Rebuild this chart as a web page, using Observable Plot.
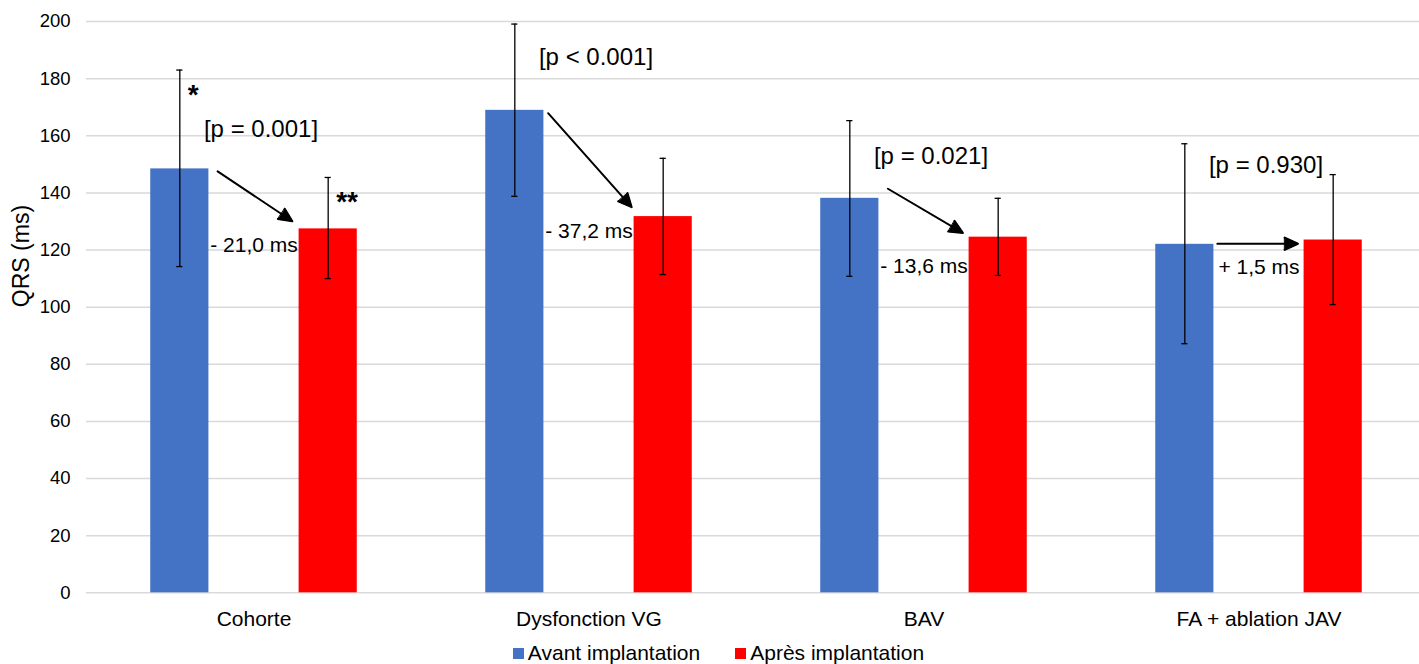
<!DOCTYPE html>
<html><head><meta charset="utf-8">
<script src="https://cdn.jsdelivr.net/npm/d3@7"></script>
<script src="https://cdn.jsdelivr.net/npm/@observablehq/plot@0.6"></script>
<style>
html,body{margin:0;padding:0;background:#fff;overflow:hidden;}
body{font-family:"Liberation Sans",Arial,Helvetica,sans-serif;color:#000;}
#chart svg{max-width:none !important;}
#legend{display:flex;justify-content:center;align-items:center;width:1437px;font-size:21px;line-height:26px;gap:35px;}
.item{display:flex;align-items:center;}
.sw{width:11px;height:11px;margin-right:4px;}
</style></head><body>
<div id="chart"></div>
<div id="legend"></div>
<script>
// ---- data ----
const categories = ["Cohorte", "Dysfonction VG", "BAV", "FA + ablation JAV"];
const series = ["Avant implantation", "Après implantation"];
const colors = ["#4472C4", "#FF0000"];
const avant = [148.4, 168.9, 138.1, 122.0];
const apres = [127.4, 131.7, 124.5, 123.5];
const avantLow = [114.2, 138.8, 110.8, 87.2];
const avantHigh = [183.0, 199.1, 165.3, 157.2];
const apresLow = [110.0, 111.4, 111.1, 100.9];
const apresHigh = [145.4, 152.1, 138.1, 146.4];
const yTicks = [0, 20, 40, 60, 80, 100, 120, 140, 160, 180, 200];
const pLabels = ["[p = 0.001]", "[p < 0.001]", "[p = 0.021]", "[p = 0.930]"];
const pLabelY = [162.1, 187.5, 152.7, 149.6];
const deltaLabels = ["- 21,0 ms", "- 37,2 ms", "- 13,6 ms", "+ 1,5 ms"];
const deltaLabelY = [121.6, 126.5, 114.3, 113.8];
const arrowStartY = [156.4, 181.0, 149.3, 122.2];
const arrowEndY = [121.7, 122.6, 118.7, 122.2];
const starLabels = ["*", "**"];
const starSeries = ["Avant implantation", "Après implantation"];
const starY = [174.1, 136.9];
const yTitle = "QRS (ms)";

// ---- tables ----
const rows = categories.flatMap((c, i) => [
  {cat: c, series: series[0], value: avant[i], lo: avantLow[i], hi: avantHigh[i]},
  {cat: c, series: series[1], value: apres[i], lo: apresLow[i], hi: apresHigh[i]}
]);
const notes = categories.map((c, i) => ({cat: c, p: pLabels[i], py: pLabelY[i], d: deltaLabels[i], dy: deltaLabelY[i], y1: arrowStartY[i], y2: arrowEndY[i]}));
const stars = starLabels.map((t, i) => ({cat: categories[0], series: starSeries[i], y: starY[i], t}));
const arrowInsets = [[45.5, 43.1], [50.1, 47.4], [44.2, 41.0], [32.5, 35.2]];

const font = '"Liberation Sans", Arial, Helvetica, sans-serif';
const chart = Plot.plot({
  width: 1427,
  height: 640,
  marginLeft: 84.7,
  marginRight: 0,
  marginTop: 21,
  marginBottom: 47.7,
  style: {fontFamily: font, color: "black", background: "white", overflow: "visible", maxWidth: "none"},
  fx: {domain: categories, padding: 0, label: null},
  x: {domain: series, paddingInner: 0.608, paddingOuter: 0.433, round: false, axis: null},
  y: {domain: [0, 200], label: null},
  color: {domain: series, range: colors},
  marks: [
    Plot.gridY(yTicks, {stroke: "#d9d9d9", strokeOpacity: 1, strokeWidth: 1.5}),
    Plot.axisY(yTicks, {tickSize: 0, tickPadding: 16, fontSize: 18.5, label: null}),
    Plot.axisFx({anchor: "bottom", tickSize: 0, tickPadding: 18, fontSize: 21, label: null}),
    Plot.barY(rows, {fx: "cat", x: "series", y: "value", fill: "series"}),
    Plot.ruleX(rows, {fx: "cat", x: "series", y1: "lo", y2: "hi", stroke: "black", strokeWidth: 1.3}),
    Plot.tickY(rows, {fx: "cat", x: "series", y: "lo", stroke: "black", strokeWidth: 1.3, insetLeft: 26, insetRight: 26}),
    Plot.tickY(rows, {fx: "cat", x: "series", y: "hi", stroke: "black", strokeWidth: 1.3, insetLeft: 26, insetRight: 26}),
    ...notes.map((n, i) => Plot.arrow([n], {fx: "cat", x1: () => series[0], x2: () => series[1], y1: "y1", y2: "y2",
      stroke: "black", strokeWidth: 2, headLength: 11, headAngle: 50, insetStart: arrowInsets[i][0], insetEnd: arrowInsets[i][1]})),
    Plot.text(notes, {fx: "cat", y: "py", text: "p", fontSize: 24, dx: 7}),
    Plot.text(notes, {fx: "cat", y: "dy", text: "d", fontSize: 21}),
    Plot.text(stars, {fx: "cat", x: "series", y: "y", text: "t", fontSize: 28, fontWeight: "bold", textAnchor: "start", dx: 8}),
    Plot.text([{cat: categories[0]}], {fx: "cat", text: () => yTitle, frameAnchor: "left", rotate: -90, dx: -65, fontSize: 23})
  ]
});
document.getElementById("chart").appendChild(chart);

// fill the arrow heads (derived from the paths Plot drew)
d3.select(chart).selectAll('g[aria-label="arrow"] path').each(function() {
  const d = this.getAttribute("d") || "";
  const nums = (d.match(/-?\d*\.?\d+(?:e-?\d+)?/g) || []).map(Number);
  if (nums.length < 6) return;
  const h = nums.slice(-6);
  d3.select(this.parentNode).append("path")
    .attr("d", `M${h[0]},${h[1]}L${h[2]},${h[3]}L${h[4]},${h[5]}Z`)
    .attr("fill", "black").attr("stroke", "black").attr("stroke-width", 1)
    .attr("transform", this.getAttribute("transform"));
});

const legend = document.getElementById("legend");
series.forEach((s, i) => {
  const it = document.createElement("div");
  it.className = "item";
  const sw = document.createElement("span");
  sw.className = "sw";
  sw.style.background = colors[i];
  const tx = document.createElement("span");
  tx.textContent = s;
  it.appendChild(sw); it.appendChild(tx);
  legend.appendChild(it);
});
</script>
</body></html>
